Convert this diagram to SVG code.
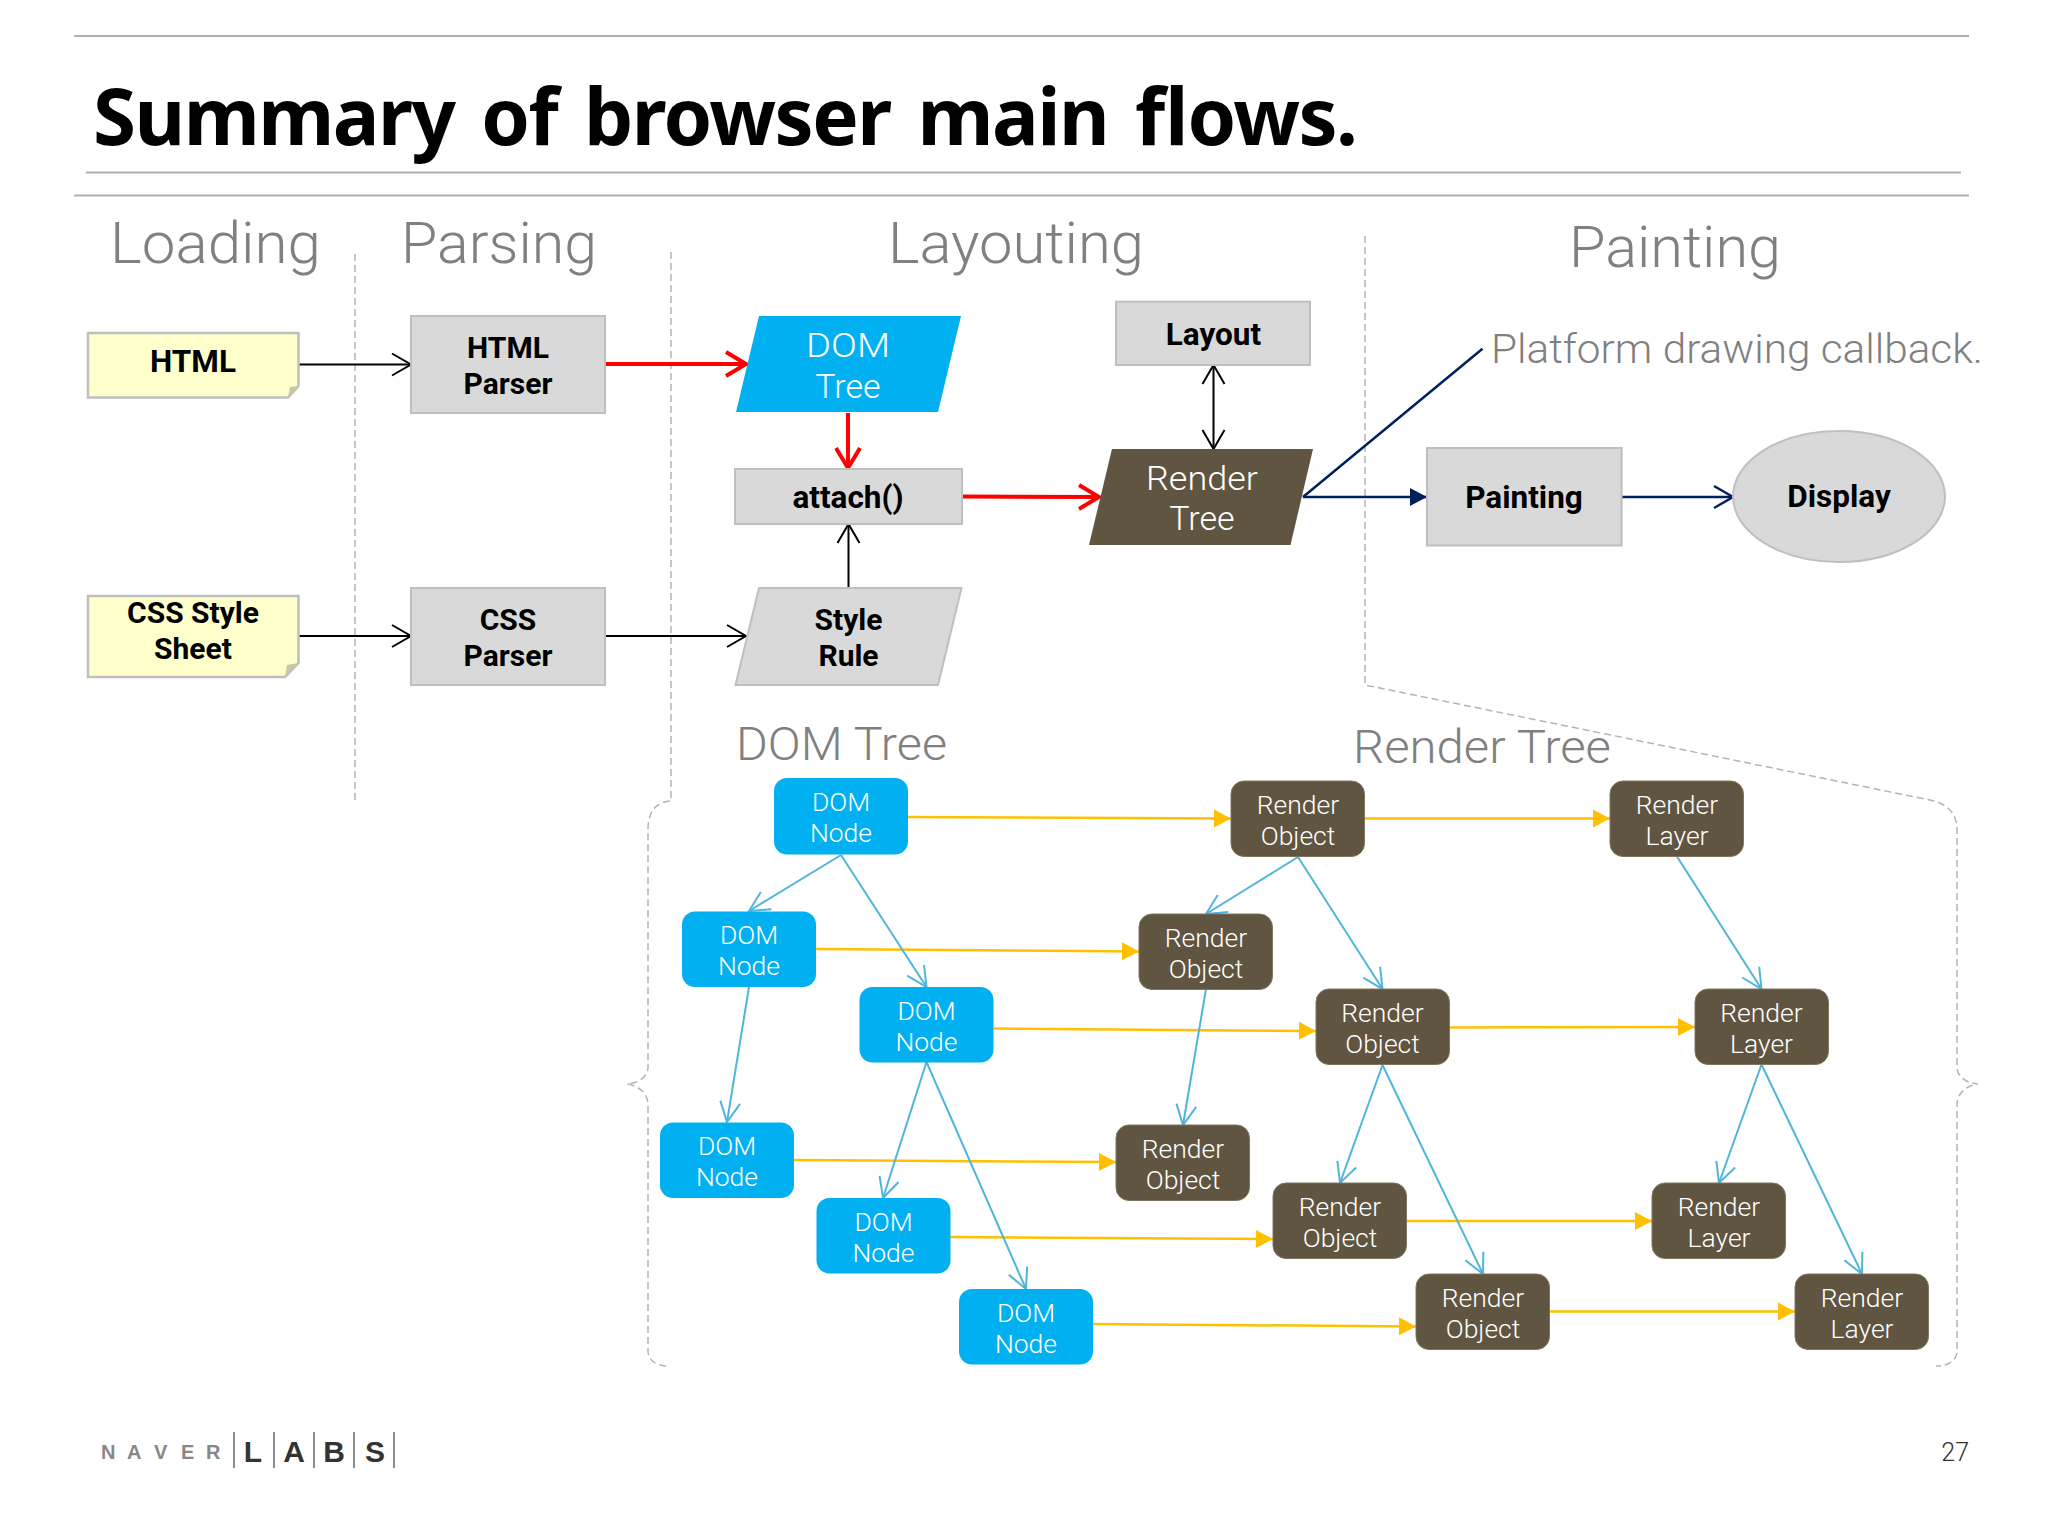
<svg xmlns="http://www.w3.org/2000/svg" width="2048" height="1536" viewBox="0 0 2048 1536">
<defs>
<style>
text{font-family:Roboto,"Noto Sans","Liberation Sans",sans-serif}
.b{font-weight:700;fill:#000;font-size:30px;text-anchor:middle}
.one{font-size:31.500px}
.h{font-weight:300;fill:#808080;font-size:58px}
.w{font-weight:300;fill:#fff;text-anchor:middle}
.big{font-size:34px}
.sm{font-size:26.500px}
.gray{fill:#d9d9d9;stroke:#bfbfbf;stroke-width:2}
.note{fill:#ffffcc;stroke:#bfbfbf;stroke-width:2.5}
.dom{fill:#00b0f0}
.rn{fill:#605540;stroke:#80755f;stroke-width:1}
.dash{fill:none;stroke:#b4b4b4;stroke-width:1.5;stroke-dasharray:7 4}
.rule{stroke:#b0b0b0;stroke-width:2;fill:none}
.k{stroke:#000;stroke-width:2;fill:none;marker-end:url(#ak)}
.r{stroke:#f00;stroke-width:4;fill:none;marker-end:url(#ar)}
.n{stroke:#002060;stroke-width:2.5;fill:none}
.y{stroke:#ffc000;stroke-width:2.5;fill:none;marker-end:url(#ay)}
.c{stroke:#4fb5da;stroke-width:2;fill:none;marker-end:url(#ac)}
</style>
<marker id="ak" markerUnits="userSpaceOnUse" markerWidth="24" markerHeight="28" refX="20" refY="13" orient="auto-start-reverse" overflow="visible"><path d="M1 2 L20 13 L1 24" fill="none" stroke="#000" stroke-width="2"/></marker>
<marker id="ar" markerUnits="userSpaceOnUse" markerWidth="26" markerHeight="30" refX="22" refY="14" orient="auto" overflow="visible"><path d="M2 2 L22 14 L2 26" fill="none" stroke="#f00" stroke-width="4"/></marker>
<marker id="an" markerUnits="userSpaceOnUse" markerWidth="20" markerHeight="24" refX="17" refY="12" orient="auto" overflow="visible"><path d="M0 3 L17 12 L0 21 Z" fill="#002060"/></marker>
<marker id="ao" markerUnits="userSpaceOnUse" markerWidth="24" markerHeight="28" refX="20" refY="13" orient="auto" overflow="visible"><path d="M1 2 L20 13 L1 24" fill="none" stroke="#002060" stroke-width="2.5"/></marker>
<marker id="ay" markerUnits="userSpaceOnUse" markerWidth="20" markerHeight="24" refX="17" refY="12" orient="auto" overflow="visible"><path d="M0 3 L17 12 L0 21 Z" fill="#ffc000"/></marker>
<marker id="ac" markerUnits="userSpaceOnUse" markerWidth="24" markerHeight="28" refX="21" refY="12" orient="auto" overflow="visible"><path d="M1 2 L21 12 L1 22" fill="none" stroke="#4fb5da" stroke-width="2"/></marker>
</defs>
<rect width="2048" height="1536" fill="#fff"/>
<g id="frame">
<path class="rule" d="M74 36H1969"/>
<path class="rule" d="M86 172.500H1961"/>
<path class="rule" d="M74 195.500H1969"/>
<text x="93" y="144.500" font-size="78" font-weight="700" fill="#000" textLength="1265" style="font-family:'Noto Sans',sans-serif" word-spacing="8">Summary of browser main flows.</text>
<text class="h" x="110" y="263" textLength="211" lengthAdjust="spacingAndGlyphs">Loading</text>
<text class="h" x="401" y="263" textLength="196" lengthAdjust="spacingAndGlyphs">Parsing</text>
<text class="h" x="888" y="263" textLength="256" lengthAdjust="spacingAndGlyphs">Layouting</text>
<text class="h" x="1569" y="267" textLength="212" lengthAdjust="spacingAndGlyphs">Painting</text>
<text x="1491" y="363" font-size="40" font-weight="300" fill="#808080" textLength="492" lengthAdjust="spacingAndGlyphs">Platform drawing callback.</text>
<text class="h" x="736" y="760" style="font-size:46px" textLength="211" lengthAdjust="spacingAndGlyphs">DOM Tree</text>
<text class="h" x="1353" y="763" style="font-size:46px" textLength="258" lengthAdjust="spacingAndGlyphs">Render Tree</text>
<path class="dash" d="M355 254V801"/>
<path class="dash" d="M671 252V801C655 802 648 812 648 830V1067C648 1076 640 1083 627 1084C640 1086 648 1094 648 1105V1351C648 1360 656 1366 669 1366"/>
<path class="dash" d="M1365 236V685L1925 799C1946 802 1957 812 1957 830V1067C1957 1076 1965 1083 1978 1084C1965 1086 1957 1094 1957 1105V1351C1957 1360 1949 1366 1936 1366"/>
</g>
<g id="connectors">
<path class="k" d="M298 364.500H411"/>
<path class="r" d="M605 364H746"/>
<path class="r" d="M848 413V468"/>
<path class="r" d="M962 496.500L1099 497"/>
<path class="k" d="M298 636H411"/>
<path class="k" d="M605 636H746"/>
<path class="k" d="M848.500 588V524"/>
<path class="k" d="M1213.500 365V449" style="marker-start:url(#ak)"/>
<path class="n" d="M1303 497H1427" marker-end="url(#an)"/>
<path class="n" d="M1303 497L1482.500 348.700"/>
<path class="n" d="M1621.600 497H1733" marker-end="url(#ao)"/>
<path class="y" d="M908 817L1231 818.500"/>
<path class="y" d="M1364 818.500H1610"/>
<path class="y" d="M816 949L1139 951.500"/>
<path class="y" d="M993.500 1028.500L1316 1031"/>
<path class="y" d="M1449.500 1027.500L1695 1027"/>
<path class="y" d="M794 1160L1116 1162"/>
<path class="y" d="M950 1237L1273 1239"/>
<path class="y" d="M1406 1221H1652"/>
<path class="y" d="M1093 1324L1416 1326.500"/>
<path class="y" d="M1549 1311.500H1795"/>
<path class="c" d="M841 855L749 911"/>
<path class="c" d="M841 855L926.500 987"/>
<path class="c" d="M749 987L727 1122"/>
<path class="c" d="M926.500 1062L883 1198"/>
<path class="c" d="M926.500 1062L1026 1289"/>
<path class="c" d="M1298 857L1206 914"/>
<path class="c" d="M1298 857L1382.500 989"/>
<path class="c" d="M1206 989L1183 1125"/>
<path class="c" d="M1382.500 1065L1340 1183"/>
<path class="c" d="M1382.500 1065L1483 1274"/>
<path class="c" d="M1677 856.500L1761.500 989"/>
<path class="c" d="M1761.500 1064.500L1719 1183"/>
<path class="c" d="M1761.500 1064.500L1862 1274"/>
</g>
<g id="html-note"><path class="note" d="M88 333H298.500V386L288 397.600H88Z"/><path d="M288 397.600L290 387L298.500 386Z" fill="#c8c8a8"/><text class="b one" x="193" y="372">HTML</text></g>
<g id="css-note"><path class="note" d="M88 596H298.500V663L285 677H88Z"/><path d="M285 677L287 665L298.500 663Z" fill="#c8c8a8"/><text class="b" x="193" y="623">CSS Style</text><text class="b" x="193" y="659">Sheet</text></g>
<g id="html-parser"><rect class="gray" x="411" y="316" width="194" height="97"/><text class="b" x="508" y="358">HTML</text><text class="b" x="508" y="394">Parser</text></g>
<g id="css-parser"><rect class="gray" x="411" y="588" width="194" height="97"/><text class="b" x="508" y="630">CSS</text><text class="b" x="508" y="666">Parser</text></g>
<g id="dom-tree"><path fill="#00b0f0" d="M759 316H961L938 412H736Z"/><text class="w big" x="848" y="357" textLength="84" lengthAdjust="spacingAndGlyphs">DOM</text><text class="w big" x="848" y="398">Tree</text></g>
<g id="attach"><rect class="gray" x="735" y="469" width="227" height="55"/><text class="b one" x="848" y="508">attach()</text></g>
<g id="style-rule"><path class="gray" d="M759 588H961.500L938 685H735.500Z"/><text class="b" x="848.500" y="630">Style</text><text class="b" x="848.500" y="666">Rule</text></g>
<g id="layout"><rect class="gray" x="1116" y="301.700" width="194" height="63.300"/><text class="b one" x="1213.500" y="345">Layout</text></g>
<g id="render-tree"><path fill="#605540" d="M1112 449H1313L1290.500 545H1089Z"/><text class="w big" x="1202" y="490" textLength="112" lengthAdjust="spacingAndGlyphs">Render</text><text class="w big" x="1202" y="530">Tree</text></g>
<g id="painting"><rect class="gray" x="1427" y="448" width="194.600" height="97.500"/><text class="b one" x="1524" y="508">Painting</text></g>
<g id="display"><ellipse class="gray" cx="1839" cy="496.500" rx="106" ry="65.500"/><text class="b one" x="1839" y="507">Display</text></g>
<g id="dom1"><rect class="dom" x="774" y="778" width="134" height="76.500" rx="13"/><text class="w sm" x="841" y="811">DOM</text><text class="w sm" x="841" y="842">Node</text></g>
<g id="dom2"><rect class="dom" x="682" y="911.500" width="134" height="75.500" rx="13"/><text class="w sm" x="749" y="944">DOM</text><text class="w sm" x="749" y="975">Node</text></g>
<g id="dom3"><rect class="dom" x="859.500" y="987" width="134" height="75.500" rx="13"/><text class="w sm" x="926.500" y="1020">DOM</text><text class="w sm" x="926.500" y="1051">Node</text></g>
<g id="dom4"><rect class="dom" x="660" y="1122.500" width="134" height="75.500" rx="13"/><text class="w sm" x="727" y="1155">DOM</text><text class="w sm" x="727" y="1186">Node</text></g>
<g id="dom5"><rect class="dom" x="816.500" y="1198" width="134" height="75.500" rx="13"/><text class="w sm" x="883.500" y="1231">DOM</text><text class="w sm" x="883.500" y="1262">Node</text></g>
<g id="dom6"><rect class="dom" x="959" y="1289" width="134" height="75.500" rx="13"/><text class="w sm" x="1026" y="1322">DOM</text><text class="w sm" x="1026" y="1353">Node</text></g>
<g id="ro1"><rect class="rn" x="1231" y="781" width="133.500" height="75.500" rx="13"/><text class="w sm" x="1298" y="814">Render</text><text class="w sm" x="1298" y="845">Object</text></g>
<g id="ro2"><rect class="rn" x="1139" y="914" width="133.500" height="75.500" rx="13"/><text class="w sm" x="1206" y="947">Render</text><text class="w sm" x="1206" y="978">Object</text></g>
<g id="ro3"><rect class="rn" x="1316" y="989" width="133.500" height="75.500" rx="13"/><text class="w sm" x="1382.500" y="1022">Render</text><text class="w sm" x="1382.500" y="1053">Object</text></g>
<g id="ro4"><rect class="rn" x="1116" y="1125" width="133.500" height="75.500" rx="13"/><text class="w sm" x="1183" y="1158">Render</text><text class="w sm" x="1183" y="1189">Object</text></g>
<g id="ro5"><rect class="rn" x="1273" y="1183" width="133.500" height="75.500" rx="13"/><text class="w sm" x="1340" y="1216">Render</text><text class="w sm" x="1340" y="1247">Object</text></g>
<g id="ro6"><rect class="rn" x="1416" y="1274" width="133.500" height="75.500" rx="13"/><text class="w sm" x="1483" y="1307">Render</text><text class="w sm" x="1483" y="1338">Object</text></g>
<g id="rl1"><rect class="rn" x="1610" y="781" width="133.500" height="75.500" rx="13"/><text class="w sm" x="1677" y="814">Render</text><text class="w sm" x="1677" y="845">Layer</text></g>
<g id="rl2"><rect class="rn" x="1695" y="989" width="133.500" height="75.500" rx="13"/><text class="w sm" x="1761.500" y="1022">Render</text><text class="w sm" x="1761.500" y="1053">Layer</text></g>
<g id="rl3"><rect class="rn" x="1652" y="1183" width="133.500" height="75.500" rx="13"/><text class="w sm" x="1719" y="1216">Render</text><text class="w sm" x="1719" y="1247">Layer</text></g>
<g id="rl4"><rect class="rn" x="1795" y="1274" width="133.500" height="75.500" rx="13"/><text class="w sm" x="1862" y="1307">Render</text><text class="w sm" x="1862" y="1338">Layer</text></g>
<g id="logo">
<text x="101 127 154 181 206" y="1459" font-size="20" font-weight="700" fill="#888" style="font-family:'Liberation Sans',sans-serif">NAVER</text>
<path stroke="#666" stroke-width="1.500" fill="none" d="M234 1432V1468M274 1432V1468M314 1432V1468M354 1432V1468M394 1432V1468"/>
<text x="253" y="1462" font-size="30" font-weight="700" fill="#333" text-anchor="middle" style="font-family:'Liberation Sans',sans-serif">L</text>
<text x="294" y="1462" font-size="30" font-weight="700" fill="#333" text-anchor="middle" style="font-family:'Liberation Sans',sans-serif">A</text>
<text x="334" y="1462" font-size="30" font-weight="700" fill="#333" text-anchor="middle" style="font-family:'Liberation Sans',sans-serif">B</text>
<text x="375" y="1462" font-size="30" font-weight="700" fill="#333" text-anchor="middle" style="font-family:'Liberation Sans',sans-serif">S</text>
</g>
<text id="page" x="1969" y="1461" font-size="25" font-weight="300" fill="#333" text-anchor="end">27</text>
</svg>
